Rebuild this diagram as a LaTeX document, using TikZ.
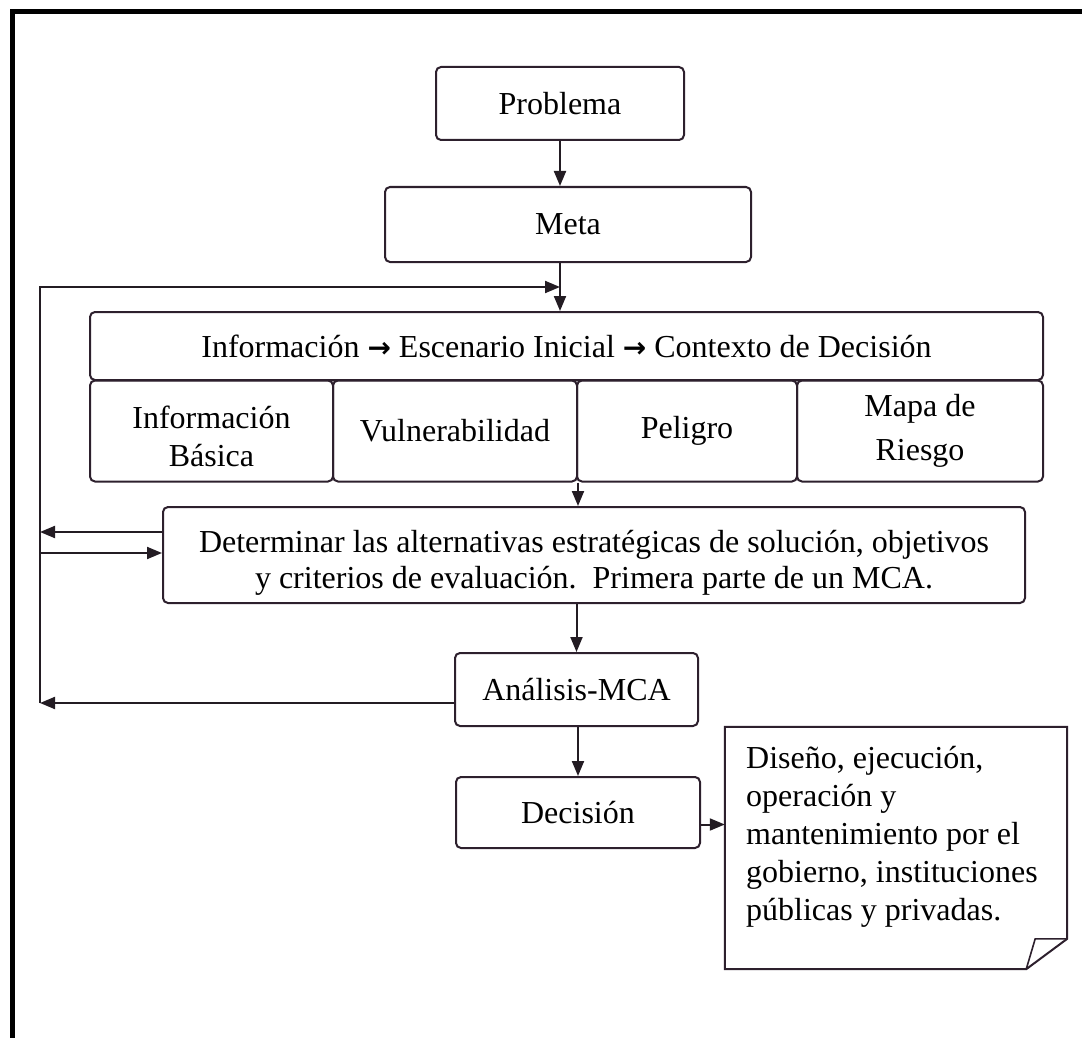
\documentclass[tikz,border=0pt]{standalone}
\usepackage{fontspec}
\setmainfont{Liberation Serif}
\newfontfamily\arrowfont{DejaVu Sans}
\usetikzlibrary{arrows.meta,calc}
\definecolor{boxc}{RGB}{45,32,45}
\definecolor{linec}{RGB}{35,28,35}
\newcommand\fsz{\fontsize{32}{38}\selectfont}
\newcommand\fszd{\fontsize{32}{36}\selectfont}
\newcommand\fszm{\fontsize{32}{44}\selectfont}
\newcommand\fszn{\fontsize{32}{38}\selectfont}
\tikzset{
  box/.style={draw=boxc, line width=2pt, rounded corners=5pt, inner sep=0pt,
    align=center, font=\fsz, text=black},
  conn/.style={draw=linec, line width=2pt},
  arr/.style={conn, -{Triangle[length=15pt,width=12pt]}},
  frame/.style={draw=black, line width=5pt},
}
\begin{document}
\begin{tikzpicture}[x=1pt,y=-1pt]
\useasboundingbox (0,0) rectangle (1082,1038);
% outer frame
\coordinate (fa) at (12,1038);
\coordinate (fb) at (12,12);
\coordinate (fc) at (1082,12);
\draw[frame] (fa) -- (fb) -- (fc);

% boxes
\node[box, minimum width=248, minimum height=73] (prob) at (560,103.5) {Problema};
\node[box, minimum width=366, minimum height=75] (meta) at (568,224.5) {Meta};
\node[box, minimum width=953, minimum height=68] (info) at (566.5,346)
  {Información {\arrowfont\bfseries\fontsize{28}{28}\selectfont →} Escenario Inicial {\arrowfont\bfseries\fontsize{28}{28}\selectfont →} Contexto de Decisión};
\node[box, minimum width=243, minimum height=101] (ib) at (211.5,431) {\rule{0pt}{34pt}Información\\Básica};
\node[box, minimum width=244, minimum height=101] (vul) at (455,431) {Vulnerabilidad};
\node[box, minimum width=220, minimum height=101] (pel) at (687,431) {Peligro};
\node[box, font=\fszm, minimum width=246, minimum height=101] (mapa) at (920,431) {Mapa de\\Riesgo};
\node[box, font=\fszd, minimum width=862, minimum height=96] (det) at (594,555)
  {\rule{0pt}{38pt}Determinar las alternativas estratégicas de solución, objetivos\\y criterios de evaluación.\ \ Primera parte de un MCA.};
\node[box, minimum width=243, minimum height=73] (ana) at (576.5,689.5) {Análisis-MCA};
\node[box, minimum width=244, minimum height=71] (dec) at (578,812.5) {Decisión};

% note with folded corner
\node[minimum width=342, minimum height=242, inner sep=0pt] (note) at (896,848) {};
\coordinate (na) at ($(note.north east)+(0,212)$);
\coordinate (nb) at ($(note.south east)+(-41,0)$);
\coordinate (nc) at ($(note.north east)+(-32,212)$);
\draw[draw=boxc, line width=2pt, line join=miter]
  (note.north west) -- (note.north east) -- (na) -- (nb) -- (note.south west) -- cycle;
\draw[draw=boxc, line width=1.6pt] (nb) -- (nc) -- (na);
\node[anchor=north west, inner sep=0pt, align=left, font=\fszn] (notetext) at (746,746)
  {Diseño, ejecución,\\operación y\\mantenimiento por el\\gobierno, instituciones\\públicas y privadas.};

% feedback coordinates
\coordinate (fbtop) at (40,287);
\coordinate (fbbot) at (40,703);
\coordinate (fb1) at (40,532);
\coordinate (fb2) at (40,553);

% connectors
\draw[arr] (prob.south) -- (prob.south |- meta.north);
\draw[arr] (meta.south -| prob.south) -- (info.north -| prob.south);
\draw[arr] (fbbot) -- (fbtop) -- (fbtop -| prob.south);
\draw[arr] (vul.south east) -- (det.north -| vul.south east);
\draw[arr] (fb1 -| det.west) -- (fb1);
\draw[arr] (fb2) -- (fb2 -| det.west);
\draw[arr] (det.south -| ana.north) -- (ana.north);
\draw[arr] (fbbot -| ana.west) -- (fbbot);
\draw[arr] (ana.south -| dec.north) -- (dec.north);
\draw[arr] ($(dec.east)+(0,12)$) -- ($(note.west |- dec.east)+(0,12)$);
\end{tikzpicture}
\end{document}
